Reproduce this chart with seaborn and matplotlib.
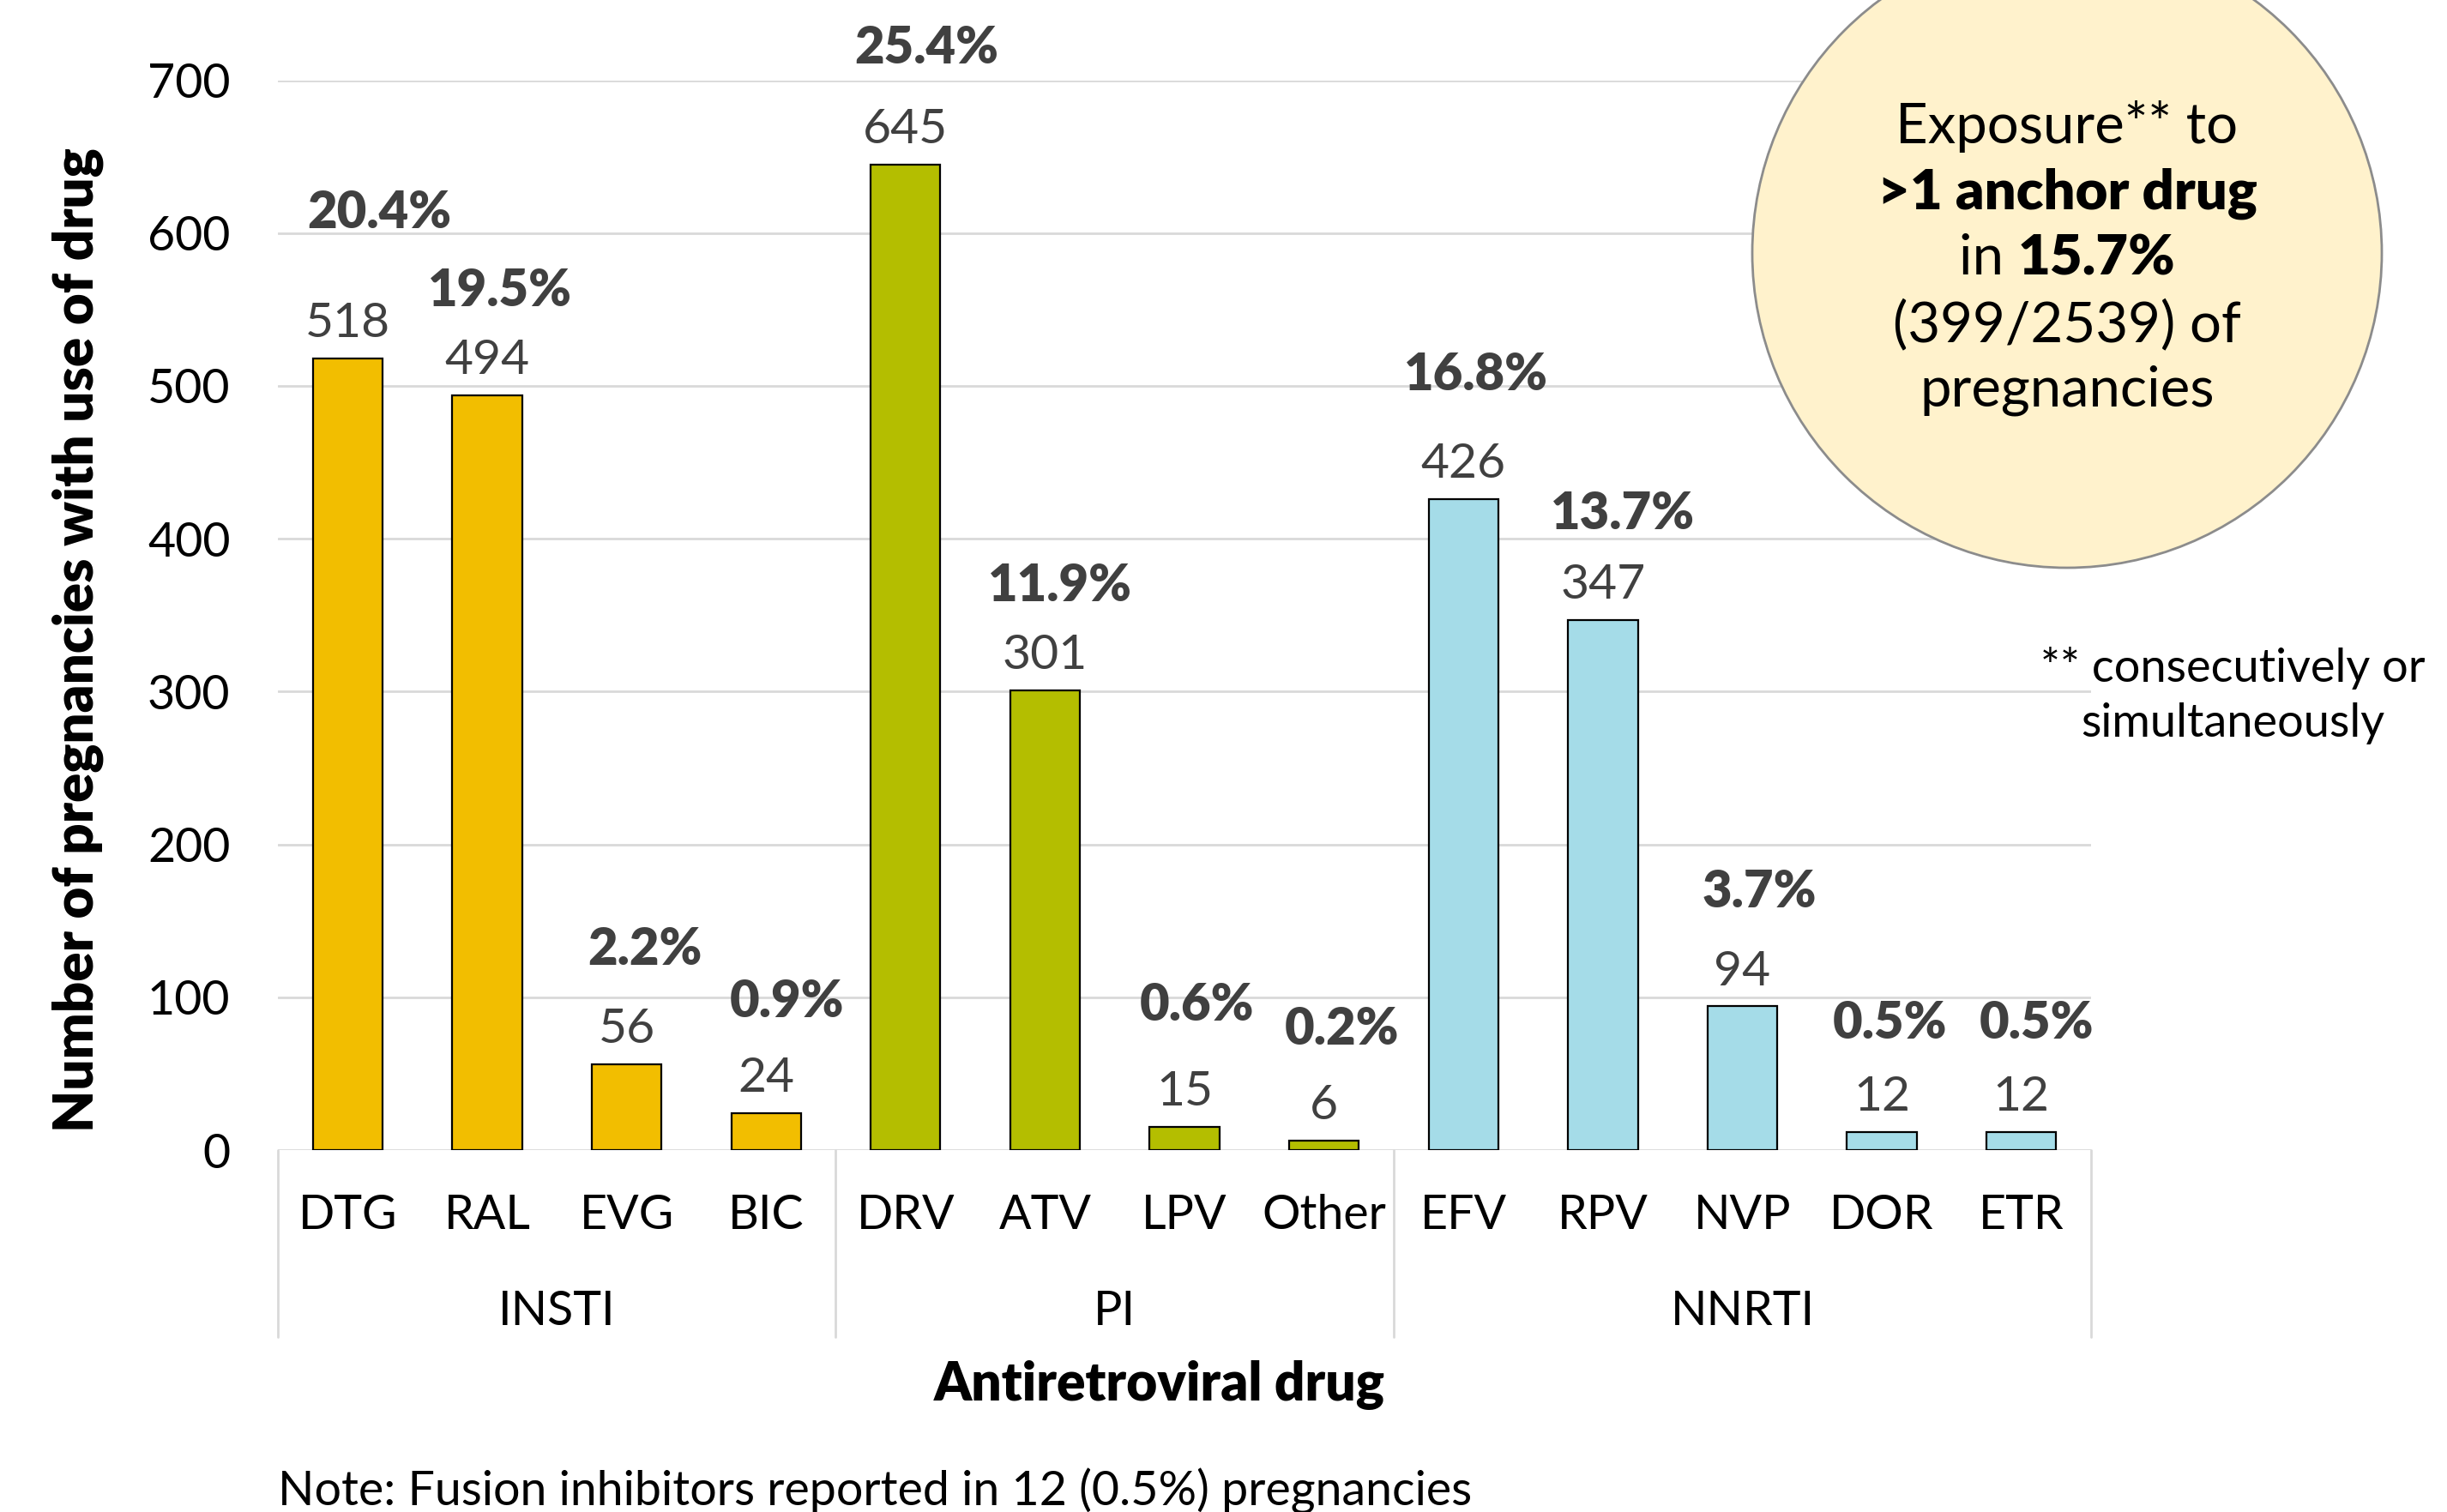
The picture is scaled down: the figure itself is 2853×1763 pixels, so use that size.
import matplotlib
matplotlib.use("Agg")
import matplotlib.pyplot as plt
import seaborn as sns
import pandas as pd
from matplotlib.patches import Circle
from matplotlib.transforms import IdentityTransform, blended_transform_factory

# ---------------- data ----------------
drugs = ["DTG", "RAL", "EVG", "BIC", "DRV", "ATV", "LPV", "Other",
         "EFV", "RPV", "NVP", "DOR", "ETR"]
drug_class = ["INSTI"] * 4 + ["PI"] * 4 + ["NNRTI"] * 5
counts = [518, 494, 56, 24, 645, 301, 15, 6, 426, 347, 94, 12, 12]
percents = [20.4, 19.5, 2.2, 0.9, 25.4, 11.9, 0.6, 0.2, 16.8, 13.7, 3.7, 0.5, 0.5]
class_names = ["INSTI", "PI", "NNRTI"]
class_colors = ["#F2BE00", "#B4BE00", "#A5DCE8"]
y_ticks = [0, 100, 200, 300, 400, 500, 600, 700]

# label layout (data units above bar top / category-unit x shift)
pct_dy = [85, 58, 65, 63, 66, 58, 70, 63, 71, 59, 65, 61, 61]
pct_dx = [0.23, 0.09, 0.13, 0.15, 0.15, 0.11, 0.09, 0.13, 0.09, 0.14, 0.12, 0.06, 0.11]

# ---------------- figure ----------------
W, H, DPI = 2853, 1763, 100
sns.set_theme(style="white")
plt.rcParams['font.family'] = ['Lato', 'DejaVu Sans']

fig = plt.figure(figsize=(W / DPI, H / DPI), dpi=DPI)
L, R, T, B = 324, 2438, 93.5, 1341
ax = fig.add_axes([L / W, 1 - B / H, (R - L) / W, (B - T) / H])

def fx(x):
    return x / W

def fy(y):
    return 1 - y / H

def ay(y):
    return (B - y) / (B - T)

df = pd.DataFrame({"drug": drugs, "cls": drug_class, "n": counts})
sns.barplot(data=df, x="drug", y="n", hue="cls", hue_order=class_names,
            palette=dict(zip(class_names, class_colors)), dodge=False,
            width=0.5, edgecolor="black", linewidth=1.6, legend=False,
            ax=ax, zorder=3, saturation=1)

ax.set_xlim(-0.5, len(drugs) - 0.5)
ax.set_ylim(0, 700)
ax.set_yticks(y_ticks)
ax.set_yticklabels([str(v) for v in y_ticks])
ax.yaxis.grid(True, color="#D9D9D9", linewidth=2)
ax.set_axisbelow(True)
for s in ax.spines.values():
    s.set_visible(False)
ax.tick_params(axis="y", length=0, pad=40, labelsize=40, labelcolor="black")
ax.set_xticks(range(len(drugs)))
ax.set_xticklabels(drugs)
ax.tick_params(axis="x", length=0, pad=37, labelsize=40, labelcolor="black")
ax.set_xlabel("")
ax.set_ylabel("")

# value & percent labels
for i, (n, p) in enumerate(zip(counts, percents)):
    ax.text(i, n + 14, f"{n}", ha="center", va="baseline", fontsize=41,
            color="#404040", zorder=5)
    ax.text(i + pct_dx[i], n + pct_dy[i], f"{p:.1f}%", ha="center", va="baseline",
            fontsize=43, fontweight="heavy", color="#404040", zorder=5)

# group separators & labels
trans = blended_transform_factory(ax.transData, ax.transAxes)
bounds = [-0.5, 3.5, 7.5, 12.5]
for xb in bounds:
    ax.plot([xb, xb], [0, ay(1559)], transform=trans, color="#D9D9D9",
            linewidth=2, clip_on=False)
group_idx = {}
for i, c in enumerate(drug_class):
    group_idx.setdefault(c, []).append(i)
for c in class_names:
    idx = group_idx[c]
    ax.text((idx[0] + idx[-1]) / 2, ay(1545), c, transform=trans, ha="center",
            va="baseline", fontsize=40, color="black")

renderer = fig.canvas.get_renderer()

def fit(t, target):
    w = t.get_window_extent(renderer).width
    t.set_fontsize(t.get_fontsize() * target / w)

# axis titles
yl = fig.text(fx(91), fy(746), "Number of pregnancies with use of drug", rotation=90,
              ha="center", va="center", fontsize=38, fontweight="heavy", color="black")
bb = yl.get_window_extent(renderer)
yl.set_fontsize(yl.get_fontsize() * 1146 / bb.height)
xl = fig.text(fx(1352), fy(1615), "Antiretroviral drug", ha="center", va="center",
              fontsize=40, fontweight="heavy", color="black")
fit(xl, 526)
nt = fig.text(fx(324), fy(1756), "Note: Fusion inhibitors reported in 12 (0.5%) pregnancies",
              ha="left", va="baseline", fontsize=40, color="black")
fit(nt, 1392)

# circle callout
circ = Circle((2410, H - 295), 367, transform=IdentityTransform(),
              facecolor="#FFF2CC", edgecolor="#8C8C8C", linewidth=2, zorder=2)
fig.add_artist(circ)
cx = 2410
cfs = 47
fig.text(fx(cx), fy(148), "Exposure** to", ha="center", va="center",
         fontsize=cfs, color="black", zorder=6)
fig.text(fx(cx), fy(226), ">1 anchor drug", ha="center", va="center",
         fontsize=cfs, fontweight="heavy", color="black", zorder=6)
t1 = fig.text(0, fy(302), "in ", ha="left", va="center", fontsize=cfs,
              color="black", zorder=6)
t2 = fig.text(0, fy(302), "15.7%", ha="left", va="center", fontsize=cfs,
              fontweight="heavy", color="black", zorder=6)
w1 = t1.get_window_extent(renderer).width
w2 = t2.get_window_extent(renderer).width
x0 = cx - (w1 + w2) / 2
t1.set_x(fx(x0))
t2.set_x(fx(x0 + w1))
fig.text(fx(cx), fy(379), "(399/2539) of", ha="center", va="center",
         fontsize=cfs, color="black", zorder=6)
fig.text(fx(cx), fy(455), "pregnancies", ha="center", va="center",
         fontsize=cfs, color="black", zorder=6)

# footnote
fig.text(fx(2603), fy(779), "** consecutively or", ha="center", va="center",
         fontsize=39, color="black")
fig.text(fx(2603), fy(844), "simultaneously", ha="center", va="center",
         fontsize=39, color="black")

fig.savefig("out.png", dpi=DPI)
